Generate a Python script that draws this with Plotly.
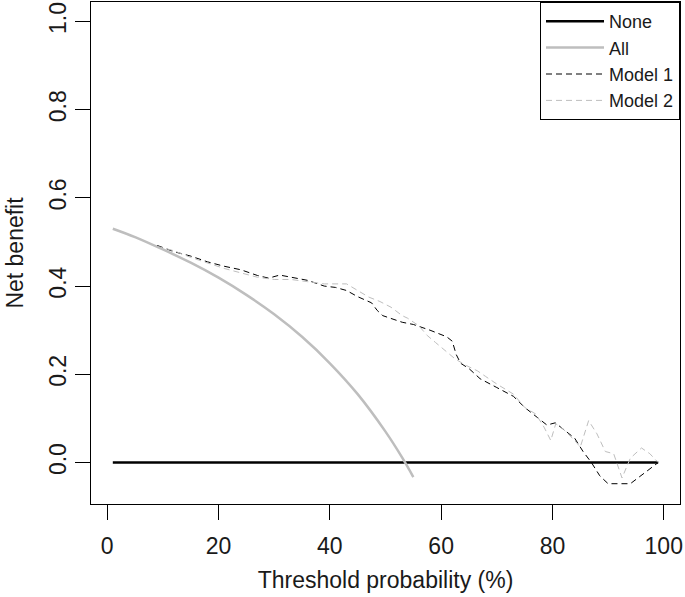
import plotly.graph_objects as go

# ---- data ----
none_t = [1, 99]
none_v = [0.0, 0.0]

all_t = [1, 5, 10, 15, 20, 25, 30, 35, 40, 45, 50, 53, 55]
all_v = [0.530, 0.511, 0.483, 0.453, 0.419, 0.380, 0.336, 0.285, 0.225, 0.155, 0.070, 0.011, -0.033]

m1_t = [9, 12, 15, 18, 21, 24, 27, 29, 31, 33, 36, 39, 41, 43, 45, 47.5, 48.5, 49.5, 51, 53, 55, 58, 61,
        62, 62.7, 63.5, 65, 67, 70, 73, 75, 77, 79, 80.5, 82, 84, 85.5, 87, 88.5, 90, 94, 96.5, 99]
m1_v = [0.492, 0.478, 0.468, 0.455, 0.445, 0.437, 0.424, 0.418, 0.425, 0.420, 0.413, 0.400, 0.397, 0.390,
        0.376, 0.362, 0.345, 0.333, 0.326, 0.318, 0.313, 0.300, 0.285, 0.275, 0.245, 0.225, 0.213, 0.190,
        0.170, 0.150, 0.125, 0.105, 0.085, 0.090, 0.075, 0.055, 0.025, 0.000, -0.030, -0.048, -0.048,
        -0.025, 0.000]

m2_t = [9, 12, 15, 18, 21, 24, 27, 30, 33, 36, 39, 42, 43, 45, 47, 49, 51, 53, 54, 56, 57.5, 59, 61, 62.5,
        64.5, 66.5, 68, 70, 73, 75, 77, 78.5, 79.7, 80.6, 82, 84, 85, 86.5, 88, 89.5, 91, 92.5, 94, 96,
        97.5, 99]
m2_v = [0.490, 0.480, 0.465, 0.452, 0.440, 0.430, 0.420, 0.415, 0.415, 0.410, 0.405, 0.405, 0.405, 0.390,
        0.375, 0.365, 0.352, 0.333, 0.327, 0.310, 0.288, 0.272, 0.252, 0.235, 0.220, 0.208, 0.195, 0.178,
        0.155, 0.125, 0.110, 0.080, 0.050, 0.088, 0.075, 0.050, 0.035, 0.095, 0.065, 0.025, 0.020, -0.035,
        0.010, 0.033, 0.020, 0.000]

x_ticks = [0, 20, 40, 60, 80, 100]
y_ticks = [0.0, 0.2, 0.4, 0.6, 0.8, 1.0]
y_tick_text = ["0.0", "0.2", "0.4", "0.6", "0.8", "1.0"]

GREY = "#BEBEBE"
TXT = "#1a1a1a"
FONT = "Liberation Sans, Arial, sans-serif"

fig = go.Figure()
fig.add_trace(go.Scatter(x=none_t, y=none_v, mode="lines", name="None",
                         line=dict(color="black", width=2.5)))
fig.add_trace(go.Scatter(x=all_t, y=all_v, mode="lines", name="All", line_shape="spline",
                         line=dict(color=GREY, width=2.5)))
fig.add_trace(go.Scatter(x=m1_t, y=m1_v, mode="lines", name="Model 1",
                         line=dict(color="black", width=1, dash="6px,4px")))
fig.add_trace(go.Scatter(x=m2_t, y=m2_v, mode="lines", name="Model 2",
                         line=dict(color=GREY, width=1, dash="6px,4px")))

axis_common = dict(showgrid=False, zeroline=False, showline=True, mirror=True,
                   linecolor="black", linewidth=1, ticks="outside", ticklen=15,
                   tickwidth=1, tickcolor="black", tickfont=dict(size=23, color=TXT),
                   title_font=dict(size=23, color=TXT))

fig.update_xaxes(range=[-2.92, 102.92], tickvals=x_ticks, ticklabelstandoff=6,
                 title_text="Threshold probability (%)", title_standoff=14, **axis_common)
fig.update_yaxes(range=[-0.094, 1.044], tickvals=y_ticks, ticktext=y_tick_text, tickangle=-90,
                 title_text="Net benefit", title_standoff=14, **axis_common)

fig.update_layout(
    width=685, height=597,
    margin=dict(l=91, r=5, t=2, b=93, autoexpand=False),
    plot_bgcolor="white", paper_bgcolor="white",
    font=dict(family=FONT, size=18, color=TXT),
    showlegend=True,
    legend=dict(x=1, y=1, xanchor="right", yanchor="top", bordercolor="black", borderwidth=1,
                bgcolor="white", font=dict(size=18, color=TXT), tracegroupgap=0,
                itemwidth=58),
)

fig.write_html("out.html", config={"displayModeBar": False},
               post_script="document.body.style.margin='0';")
